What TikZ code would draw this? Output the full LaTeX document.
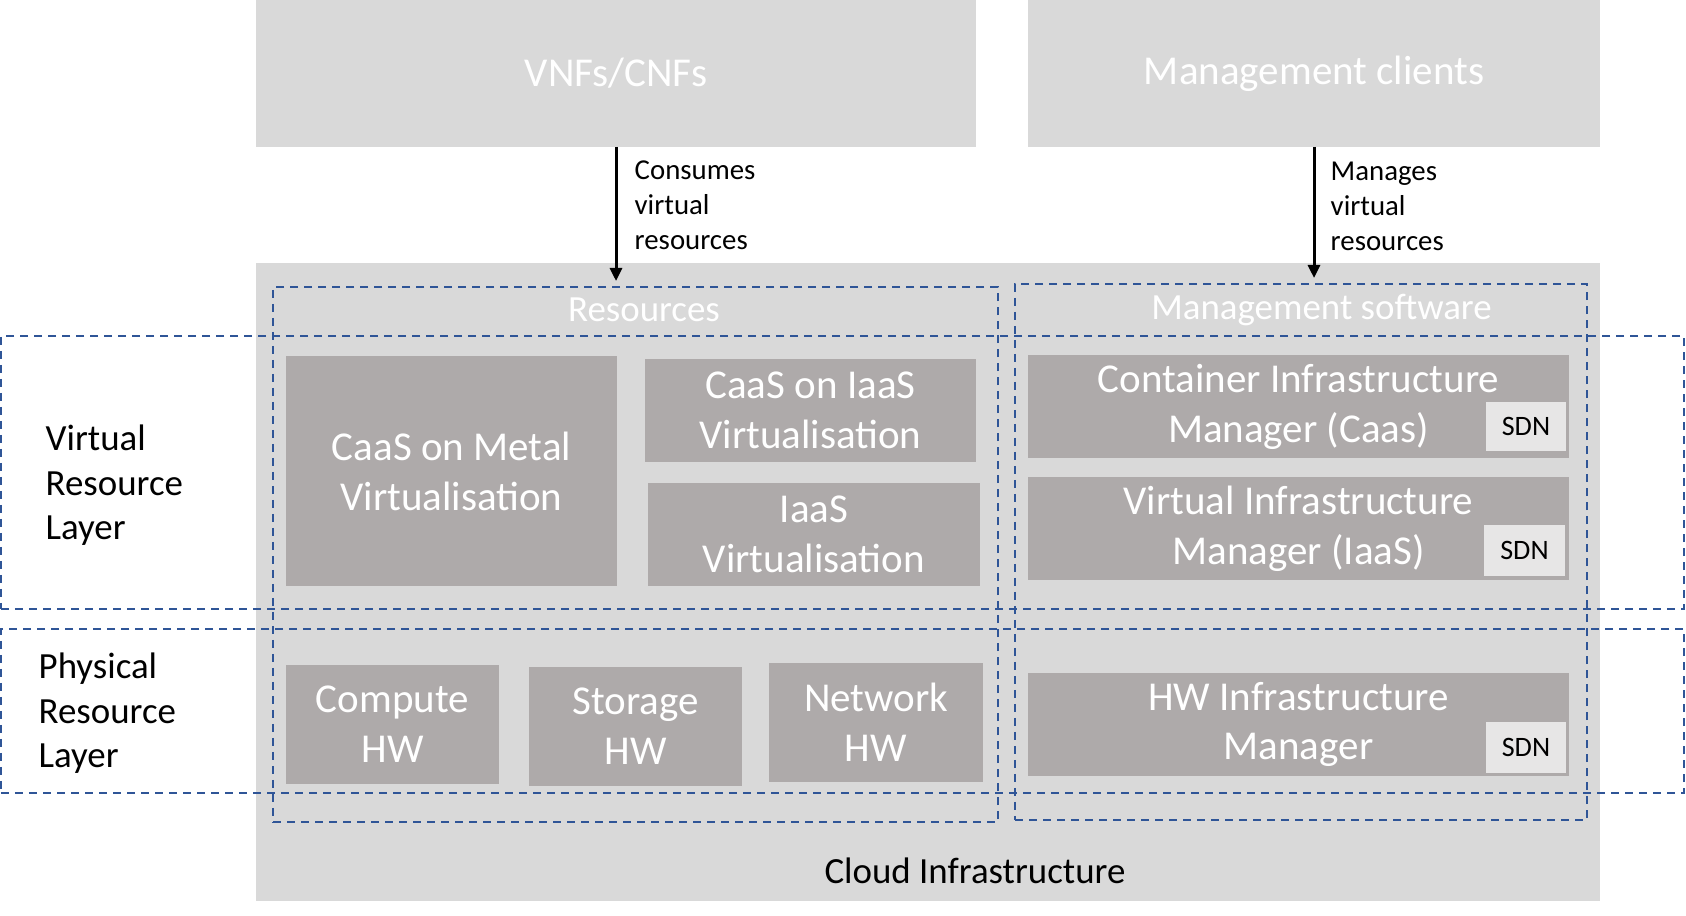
\documentclass[tikz,border=0pt]{standalone}
\usepackage{fontspec}
\setmainfont{Carlito}
\usetikzlibrary{arrows.meta}

\begin{document}
\begin{tikzpicture}[
	bgbox/.style={fill=lightgrey, inner sep=0pt, outer sep=0pt},
	vbox/.style={fill=boxgrey, text=white, align=center, inner sep=0pt, outer sep=0pt, font=\fontsize{11.67}{14.2}\selectfont},
	sdnbox/.style={fill=sdngrey, inner sep=0pt, outer sep=0pt, font=\fontsize{8}{9.8}\selectfont},
	dashbox/.style={draw=dashblue, line width=0.02cm, dash pattern=on 0.08cm off 0.06cm, inner sep=0pt, outer sep=0pt},
	layertext/.style={align=left, inner sep=0pt, font=\fontsize{10.5}{12.8}\selectfont},
	arrowtext/.style={align=left, inner sep=0pt, font=\fontsize{8.2}{10}\selectfont},
	uses/.style={line width=0.03cm, -{Triangle[length=0.13cm,width=0.12cm]}}
	]
			\definecolor{lightgrey}{HTML}{D9D9D9}
			\definecolor{boxgrey}{HTML}{AEAAAA}
			\definecolor{sdngrey}{HTML}{E7E6E6}
			\definecolor{dashblue}{HTML}{2F5597}
			\useasboundingbox (0,0) rectangle (16.86,9.15);
			% consumers
			\node[bgbox, text=white, minimum width=7.20cm, minimum height=1.47cm, font=\fontsize{11.67}{14.2}\selectfont] (vnf) at (6.16,8.415) {VNFs/CNFs};
			\node[bgbox, text=white, minimum width=5.72cm, minimum height=1.47cm, font=\fontsize{11.67}{14.2}\selectfont] (mgc) at (13.14,8.415) {Management clients};
			% cloud infrastructure
			\node[bgbox, minimum width=13.44cm, minimum height=6.38cm] (cloud) at (9.28,3.33) {};
			\node[anchor=base, inner sep=0pt, font=\fontsize{10.5}{12.8}\selectfont] (cloudlabel) at (9.75,0.32) {Cloud Infrastructure};
			% layers
			\node[dashbox, minimum width=16.83cm, minimum height=2.73cm] (virt) at (8.425,4.425) {};
			\node[dashbox, minimum width=16.83cm, minimum height=1.64cm] (phys) at (8.425,2.04) {};
			\node[layertext, anchor=base west] (virtlabel) at (0.45,3.75) {Virtual\\Resource\\Layer};
			\node[layertext, anchor=base west] (physlabel) at (0.38,1.47) {Physical\\Resource\\Layer};
			% resources and management software
			\node[dashbox, minimum width=7.25cm, minimum height=5.35cm] (res) at (6.355,3.605) {};
			\node[dashbox, minimum width=5.72cm, minimum height=5.36cm] (mgs) at (13.01,3.63) {};
			\node[layertext, text=white, anchor=base] (reslabel) at (6.44,5.93) {Resources};
			\node[layertext, text=white, anchor=base] (mgslabel) at (13.215,5.95) {Management software};
			% virtualisation
			\node[vbox, minimum width=3.31cm, minimum height=2.30cm] (metal) at (4.515,4.44) {CaaS on Metal\\Virtualisation};
			\node[vbox, minimum width=3.31cm, minimum height=1.03cm] (caasiaas) at (8.105,5.045) {CaaS on IaaS\\Virtualisation};
			\node[vbox, minimum width=3.32cm, minimum height=1.03cm] (iaas) at (8.14,3.805) {IaaS\\Virtualisation};
			% hardware
			\node[vbox, minimum width=2.13cm, minimum height=1.19cm] (compute) at (3.925,1.905) {Compute\\HW};
			\node[vbox, minimum width=2.13cm, minimum height=1.19cm] (storage) at (6.355,1.885) {Storage\\HW};
			\node[vbox, minimum width=2.14cm, minimum height=1.19cm] (network) at (8.76,1.925) {Network\\HW};
			% managers
			\node[vbox, minimum width=5.41cm, minimum height=1.03cm] (cim) at (12.985,5.085) {Container Infrastructure\\Manager (Caas)};
			\node[vbox, minimum width=5.41cm, minimum height=1.03cm] (vim) at (12.985,3.865) {Virtual Infrastructure\\Manager (IaaS)};
			\node[vbox, minimum width=5.41cm, minimum height=1.03cm] (hwm) at (12.985,1.905) {HW Infrastructure\\Manager};
			\node[sdnbox, minimum width=0.80cm, minimum height=0.49cm] (sdn1) at (15.26,4.885) {SDN};
			\node[sdnbox, minimum width=0.81cm, minimum height=0.51cm] (sdn2) at (15.245,3.645) {SDN};
			\node[sdnbox, minimum width=0.80cm, minimum height=0.51cm] (sdn3) at (15.26,1.675) {SDN};
			% arrows
			\coordinate (resin) at (6.16,6.34);
			\coordinate (mgsin) at (13.14,6.37);
			\draw[uses] (vnf.south) -- (resin);
			\draw[uses] (mgc.south) -- (mgsin);
			\node[arrowtext, anchor=base west] (consumes) at (6.34,6.65) {Consumes\\virtual\\resources};
			\node[arrowtext, anchor=base west] (manages) at (13.30,6.64) {Manages\\virtual\\resources};
			
			\end{tikzpicture}
\end{document}
